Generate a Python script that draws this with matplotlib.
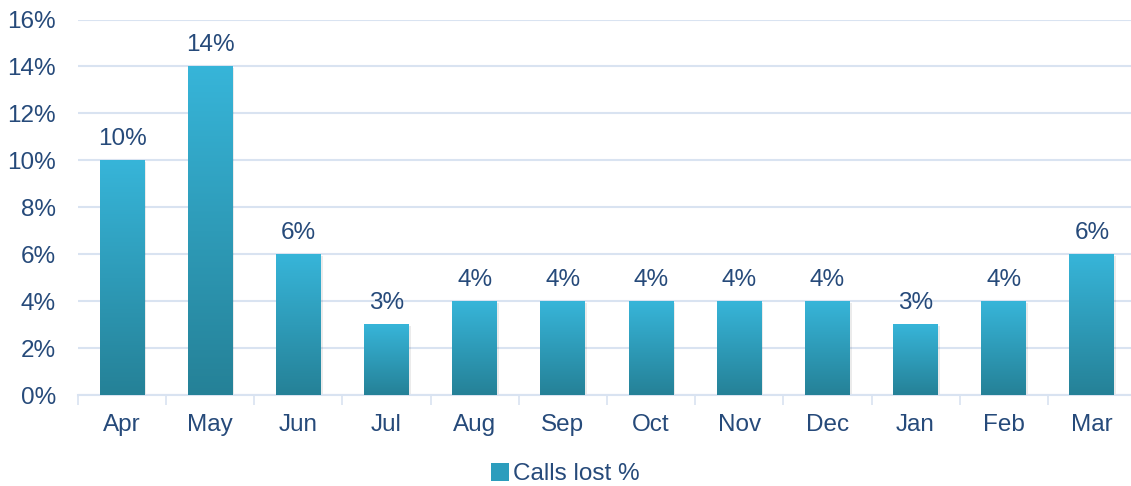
import matplotlib
matplotlib.use("Agg")
import matplotlib.pyplot as plt
import numpy as np
from matplotlib.colors import LinearSegmentedColormap
from matplotlib.patches import Patch
from matplotlib.ticker import FuncFormatter, FixedLocator

months = ["Apr", "May", "Jun", "Jul", "Aug", "Sep", "Oct", "Nov", "Dec", "Jan", "Feb", "Mar"]
calls_lost = [10, 14, 6, 3, 4, 4, 4, 4, 4, 3, 4, 6]
series_name = "Calls lost %"

TEXT = "#264a7a"
GRID = "#d9e3f1"
FS = 17.5
# bar gradient: dark at the base, light cyan at the top
RAMP = LinearSegmentedColormap.from_list("cyan", ["#258197", "#37b5d9"])

plt.rcParams["font.family"] = ["Liberation Sans", "DejaVu Sans"]

fig = plt.figure(figsize=(11.31, 4.86), dpi=100)
ax = fig.add_axes([78 / 1131, 91 / 486, 1058 / 1131, 375.5 / 486])

x = np.arange(len(months))
width = 0.51
bars = ax.bar(x, calls_lost, width=width, color="none", zorder=3)
grad = np.linspace(0, 1, 256).reshape(-1, 1)
for bar, v in zip(bars, calls_lost):
    x0 = bar.get_x()
    # soft shadow just right of / below the bar
    ax.bar(x0 + width / 2 + 0.02, v, width=width, bottom=-0.08,
           color="#000000", alpha=0.08, zorder=2, linewidth=0)
    ax.imshow(grad, cmap=RAMP, origin="lower", aspect="auto",
              extent=(x0, x0 + width, 0, v), zorder=3)
    ax.text(x0 + width / 2, v + 0.45, f"{v}%", ha="center", va="bottom",
            fontsize=FS, color=TEXT)

ax.set_xlim(-0.5, len(months) - 0.5)
ax.set_ylim(0, 16)
ax.set_yticks(np.arange(0, 17, 2))
ax.yaxis.set_major_formatter(FuncFormatter(lambda v, _: f"{v:.0f}%"))
ax.grid(axis="y", color=GRID, linewidth=1.5, zorder=0)
ax.set_axisbelow(True)

ax.set_xticks(x)
ax.set_xticklabels(months)
ax.xaxis.set_minor_locator(FixedLocator(np.arange(-0.5, len(months), 1)))
ax.tick_params(axis="x", which="major", length=0, pad=14, labelsize=FS, colors=TEXT)
ax.tick_params(axis="x", which="minor", length=7, width=1.2, color=GRID)
ax.tick_params(axis="y", length=0, pad=16, labelsize=FS, colors=TEXT)

for s in ["top", "right", "left"]:
    ax.spines[s].set_visible(False)
ax.spines["bottom"].set_color(GRID)
ax.spines["bottom"].set_linewidth(1.5)

handle = Patch(facecolor="#2c9dbd", edgecolor="none")
fig.legend([handle], [series_name], loc="center", bbox_to_anchor=(0.5, 12 / 486),
           frameon=False, fontsize=FS, labelcolor=TEXT, handlelength=0.75,
           handleheight=0.75, handletextpad=0.15)

fig.savefig("out.png", dpi=100)
